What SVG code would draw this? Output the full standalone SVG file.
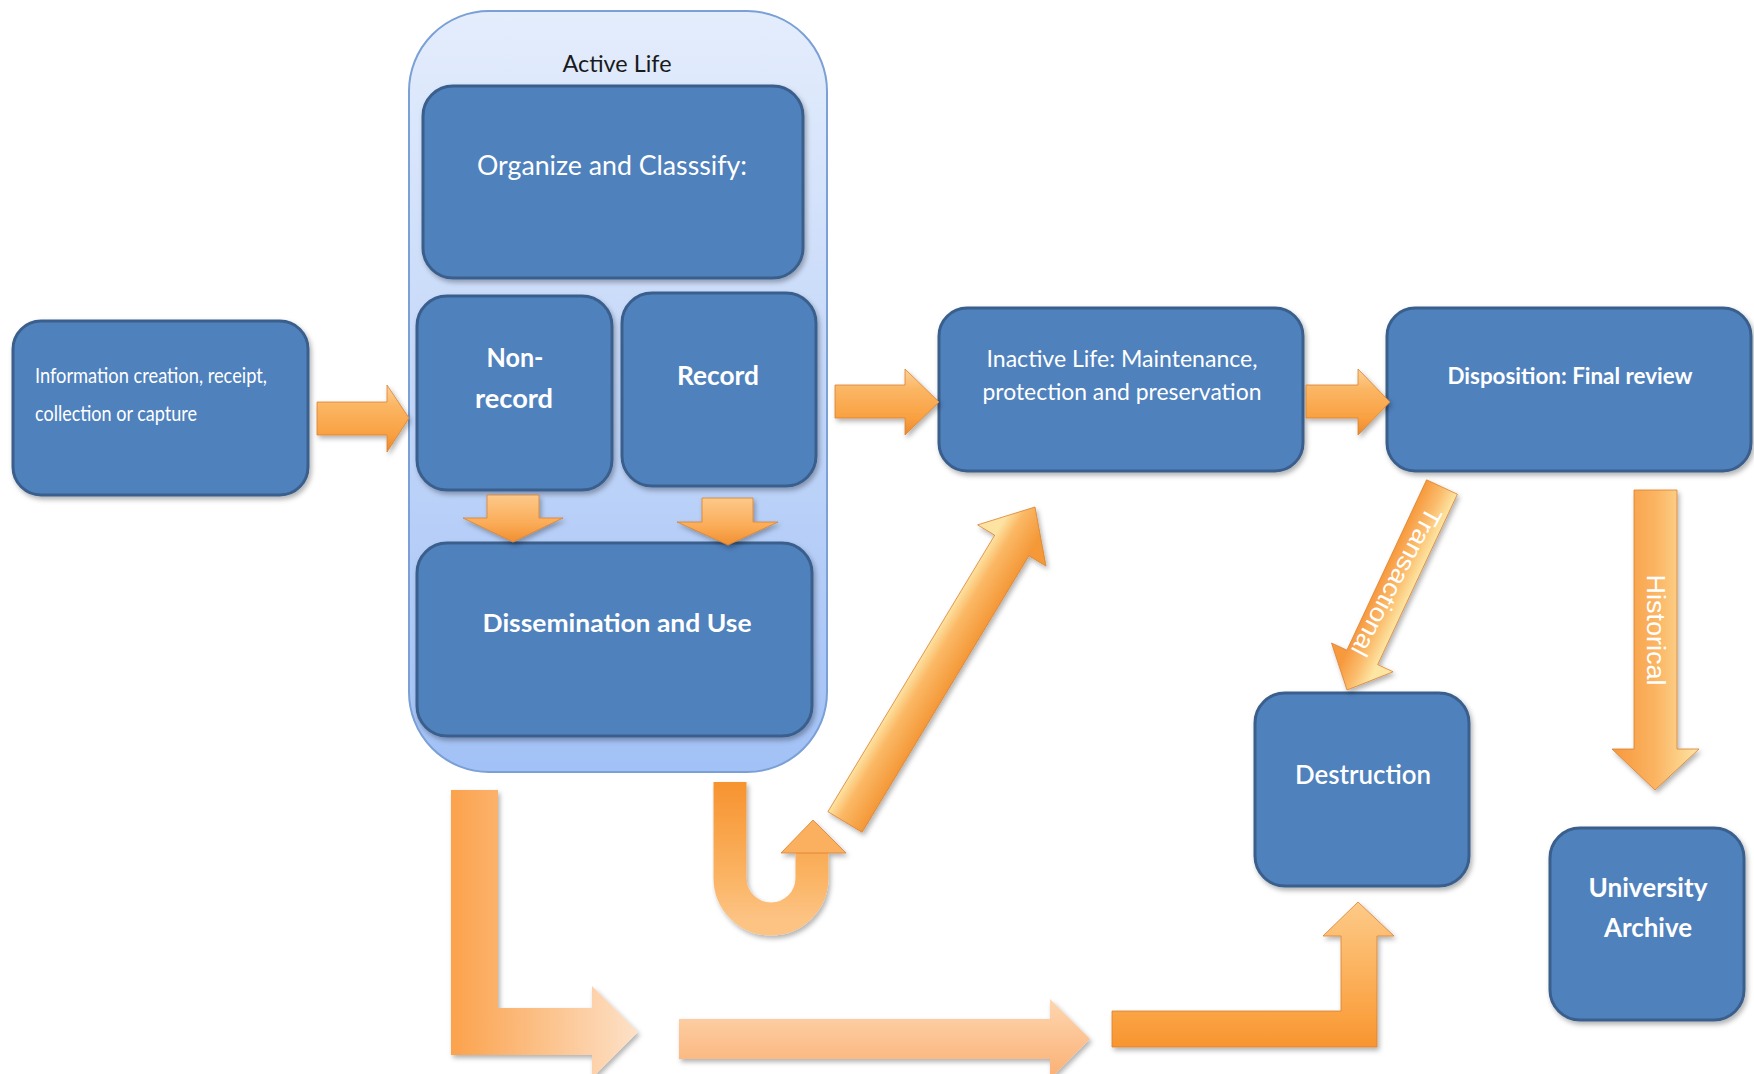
<svg xmlns="http://www.w3.org/2000/svg" width="1754" height="1074" viewBox="0 0 1754 1074">
<style>
.box{fill:#4f81bd;stroke:#3a5f8c;stroke-width:3;filter:url(#sh)}
.t{font-family:Lato,"Liberation Sans",sans-serif;fill:#ffffff;text-anchor:middle;font-size:25px}
.b{font-weight:bold}
.lbl{font-family:"Liberation Sans",Arial,sans-serif;fill:#ffffff;font-size:25px;text-anchor:middle;dominant-baseline:central}
.arr{filter:url(#sh);stroke:#d9822e;stroke-width:0.8}
</style>
<defs>
<filter id="sh" x="-15%" y="-15%" width="135%" height="135%">
<feDropShadow dx="2" dy="3" stdDeviation="2.5" flood-color="#000" flood-opacity="0.3"/>
</filter>
<linearGradient id="cont" x1="0" y1="0" x2="0" y2="1">
<stop offset="0" stop-color="#e4edfc"/><stop offset="1" stop-color="#a2c1f6"/>
</linearGradient>
<linearGradient id="gH" x1="0" y1="0" x2="0" y2="1">
<stop offset="0" stop-color="#fdd196"/><stop offset="0.3" stop-color="#fbb664"/><stop offset="0.75" stop-color="#f9a041"/><stop offset="1" stop-color="#e98a2c"/>
</linearGradient>
<linearGradient id="gD" x1="0" y1="0" x2="0" y2="1">
<stop offset="0" stop-color="#fcc98a"/><stop offset="0.6" stop-color="#fbac58"/><stop offset="1" stop-color="#f08f30"/>
</linearGradient>
<linearGradient id="gV" x1="0" y1="0" x2="1" y2="0">
<stop offset="0" stop-color="#f7983c"/><stop offset="0.5" stop-color="#fbb462"/><stop offset="1" stop-color="#fde6a6"/>
</linearGradient>
<linearGradient id="gDiag" gradientUnits="userSpaceOnUse" x1="827.9" y1="811.7" x2="862.1" y2="832.3">
<stop offset="0" stop-color="#fde3a2"/><stop offset="0.35" stop-color="#fbb865"/><stop offset="1" stop-color="#f49838"/>
</linearGradient>
<linearGradient id="gTr" gradientUnits="userSpaceOnUse" x1="1426.6" y1="479.8" x2="1457.4" y2="494.2">
<stop offset="0" stop-color="#f7993d"/><stop offset="0.55" stop-color="#fbbd6e"/><stop offset="1" stop-color="#fde6a4"/>
</linearGradient>
<linearGradient id="gU" x1="0" y1="0" x2="0" y2="1">
<stop offset="0" stop-color="#f7932f"/><stop offset="0.7" stop-color="#fbb464"/><stop offset="1" stop-color="#fcc383"/>
</linearGradient>
<linearGradient id="gL" gradientUnits="userSpaceOnUse" x1="451" y1="0" x2="638" y2="0">
<stop offset="0" stop-color="#fba24c"/><stop offset="1" stop-color="#fde1c8"/>
</linearGradient>
<linearGradient id="gLong" x1="0" y1="0" x2="0" y2="1">
<stop offset="0" stop-color="#fdd6b0"/><stop offset="1" stop-color="#fbb074"/>
</linearGradient>
<linearGradient id="gBent" gradientUnits="userSpaceOnUse" x1="0" y1="902" x2="0" y2="1047">
<stop offset="0" stop-color="#fdca88"/><stop offset="0.75" stop-color="#fba446"/><stop offset="1" stop-color="#f7952f"/>
</linearGradient>
</defs>
<rect width="1754" height="1074" fill="#ffffff"/>

<g id="active-life">
<rect x="409" y="11" width="418" height="761" rx="80" fill="url(#cont)" stroke="#7aa0d6" stroke-width="2"/>
<text x="617" y="72" style="font-family:Lato,'Liberation Sans',sans-serif;font-size:24px;fill:#1a1a1a;text-anchor:middle" textLength="109" lengthAdjust="spacingAndGlyphs">Active Life</text>
</g>

<g id="info">
<rect class="box" x="13" y="321" width="295" height="174" rx="28"/>
<text class="t" x="35" y="383" style="text-anchor:start;font-size:22px" textLength="232" lengthAdjust="spacingAndGlyphs">Information creation, receipt,</text>
<text class="t" x="35" y="421" style="text-anchor:start;font-size:22px" textLength="162" lengthAdjust="spacingAndGlyphs">collection or capture</text>
</g>

<g id="organize">
<rect class="box" x="423" y="86" width="380" height="192" rx="30"/>
<text class="t" x="612" y="175" style="font-size:26px" textLength="270" lengthAdjust="spacingAndGlyphs">Organize and Classsify:</text>
</g>

<g id="nonrecord">
<rect class="box" x="417" y="296" width="195" height="194" rx="30"/>
<text class="t b" x="515" y="367" style="font-size:26px" textLength="57" lengthAdjust="spacingAndGlyphs">Non-</text>
<text class="t b" x="514" y="408" style="font-size:26px" textLength="78" lengthAdjust="spacingAndGlyphs">record</text>
</g>

<g id="record">
<rect class="box" x="622" y="293" width="194" height="193" rx="30"/>
<text class="t b" x="718" y="385" style="font-size:26px" textLength="82" lengthAdjust="spacingAndGlyphs">Record</text>
</g>

<g id="dissemination">
<rect class="box" x="417" y="543" width="395" height="193" rx="30"/>
<text class="t b" x="617" y="632" style="font-size:25px" textLength="269" lengthAdjust="spacingAndGlyphs">Dissemination and Use</text>
</g>

<g id="inactive">
<rect class="box" x="939" y="308" width="364" height="163" rx="28"/>
<text class="t" x="1122" y="367" style="font-size:23px" textLength="271" lengthAdjust="spacingAndGlyphs">Inactive Life: Maintenance,</text>
<text class="t" x="1122" y="400" style="font-size:23px" textLength="279" lengthAdjust="spacingAndGlyphs">protection and preservation</text>
</g>

<g id="disposition">
<rect class="box" x="1387" y="308" width="364" height="163" rx="28"/>
<text class="t b" x="1570" y="384" style="font-size:23px" textLength="245" lengthAdjust="spacingAndGlyphs">Disposition: Final review</text>
</g>

<g id="destruction">
<rect class="box" x="1255" y="693" width="214" height="193" rx="30"/>
<text class="t" x="1363" y="784" style="font-size:26px;font-weight:600" textLength="136" lengthAdjust="spacingAndGlyphs">Destruction</text>
</g>

<g id="university">
<rect class="box" x="1550" y="828" width="194" height="192" rx="30"/>
<text class="t b" x="1648" y="897" style="font-size:26px" textLength="119" lengthAdjust="spacingAndGlyphs">University</text>
<text class="t b" x="1648" y="937" style="font-size:26px" textLength="88" lengthAdjust="spacingAndGlyphs">Archive</text>
</g>

<g id="connectors">
<polygon class="arr" fill="url(#gH)" points="317,402 387,402 387,385 409,418 387,452 387,435 317,435"/>
<polygon class="arr" fill="url(#gD)" points="487,495 539,495 539,518 563,518 513,542 463,518 487,518"/>
<polygon class="arr" fill="url(#gD)" points="702,498 753,498 753,522 778,522 728,545 677,522 702,522"/>
<polygon class="arr" fill="url(#gH)" points="835,385 905,385 905,369 939,402 905,435 905,418 835,418"/>
<polygon class="arr" fill="url(#gH)" points="1306,385 1358,385 1358,369 1390,402 1358,435 1358,418 1306,418"/>
<g>
<polygon class="arr" fill="url(#gTr)" points="1426.6,479.8 1346.9,650.2 1331.5,643 1347,690 1393.1,671.8 1377.7,664.6 1457.4,494.2"/>
<text class="lbl" transform="translate(1397,582) rotate(118)" textLength="165" lengthAdjust="spacingAndGlyphs">Transactional</text>
</g>
<g>
<polygon class="arr" fill="url(#gV)" points="1634,490 1677,490 1677,749 1699,749 1655,790 1612,749 1634,749"/>
<text class="lbl" transform="translate(1656,630) rotate(90)" textLength="111" lengthAdjust="spacingAndGlyphs">Historical</text>
</g>
<polygon class="arr" fill="url(#gDiag)" points="827.9,811.7 994.7,535.2 977.6,524.9 1035,507 1046,566.1 1028.9,555.8 862.1,832.3"/>
<g filter="url(#sh)">
<path d="M730,782 L730,878 A41,41 0 0 0 812,878 L812,852" fill="none" stroke="url(#gU)" stroke-width="33"/>
<polygon fill="#fbb060" stroke="#d9822e" stroke-width="0.8" points="781,853 813,820 846,853"/>
</g>
<polygon filter="url(#sh)" fill="url(#gL)" points="451,790 498,790 498,1008 592,1008 592,986 638,1032 592,1078 592,1055 451,1055"/>
<polygon filter="url(#sh)" fill="url(#gLong)" points="679,1019 1050,1019 1050,999 1090,1039 1050,1079 1050,1059 679,1059"/>
<polygon class="arr" fill="url(#gBent)" points="1112,1011 1341,1011 1341,936 1323,936 1358,902 1394,936 1377,936 1377,1047 1112,1047"/>
</g>
</svg>
